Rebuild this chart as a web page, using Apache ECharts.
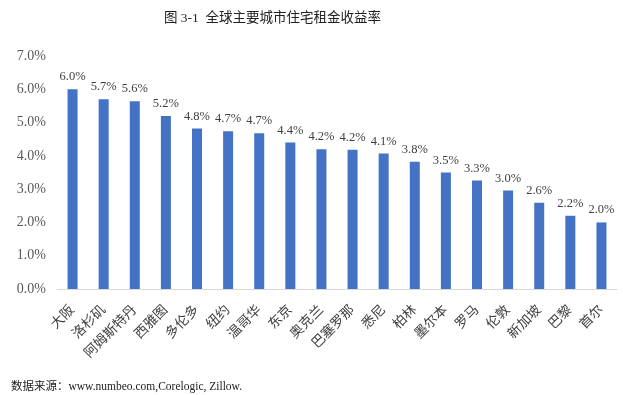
<!DOCTYPE html>
<html><head><meta charset="utf-8">
<script src="https://cdn.jsdelivr.net/npm/echarts@6/dist/echarts.min.js"></script>
<style>html,body{margin:0;padding:0;background:#fff}#c{width:623px;height:395px}</style>
</head><body><div id="c"></div>
<script>
const cities = ['大阪','洛杉矶','阿姆斯特丹','西雅图','多伦多','纽约','温哥华','东京','奥克兰','巴塞罗那','悉尼','柏林','墨尔本','罗马','伦敦','新加坡','巴黎','首尔'];
const yields = [6.0,5.7,5.64,5.2,4.82,4.74,4.68,4.4,4.2,4.18,4.07,3.82,3.5,3.26,2.96,2.59,2.2,2.0];
const yTicks = [0,1,2,3,4,5,6,7];
const titleText = '图 3-1  全球主要城市住宅租金收益率';
const sourceText = '数据来源：www.numbeo.com,Corelogic, Zillow.';
const FF = '"Liberation Serif","Noto Sans CJK SC",serif';
const chart = echarts.init(document.getElementById('c'));
chart.setOption({
  animation:false,
  title:[
    {text:titleText,left:159,top:7,textStyle:{fontFamily:FF,fontSize:13.5,fontWeight:'normal',color:'#222'}},
    {text:sourceText,left:6,top:376,textStyle:{fontFamily:FF,fontSize:11.5,fontWeight:'normal',color:'#222'}}
  ],
  grid:{left:57,right:6,top:56,bottom:106},
  xAxis:{type:'category',data:cities,
    axisLine:{lineStyle:{color:'#d9d9d9'}},axisTick:{show:false},
    axisLabel:{rotate:45,interval:0,fontFamily:FF,fontSize:13.5,color:'#404040',margin:19}},
  yAxis:{type:'value',min:yTicks[0],max:yTicks[yTicks.length-1],interval:1,
    splitLine:{show:false},axisLine:{show:false},axisTick:{show:false},
    axisLabel:{fontFamily:FF,fontSize:14,color:'#595959',margin:11,formatter:v=>v.toFixed(1)+'%'}},
  series:[{type:'bar',data:yields,barWidth:10,itemStyle:{color:'#4472C4'},
    label:{show:true,position:'top',distance:6,fontFamily:FF,fontSize:12.5,color:'#404040',formatter:p=>p.value.toFixed(1)+'%'}}]
});
</script></body></html>
